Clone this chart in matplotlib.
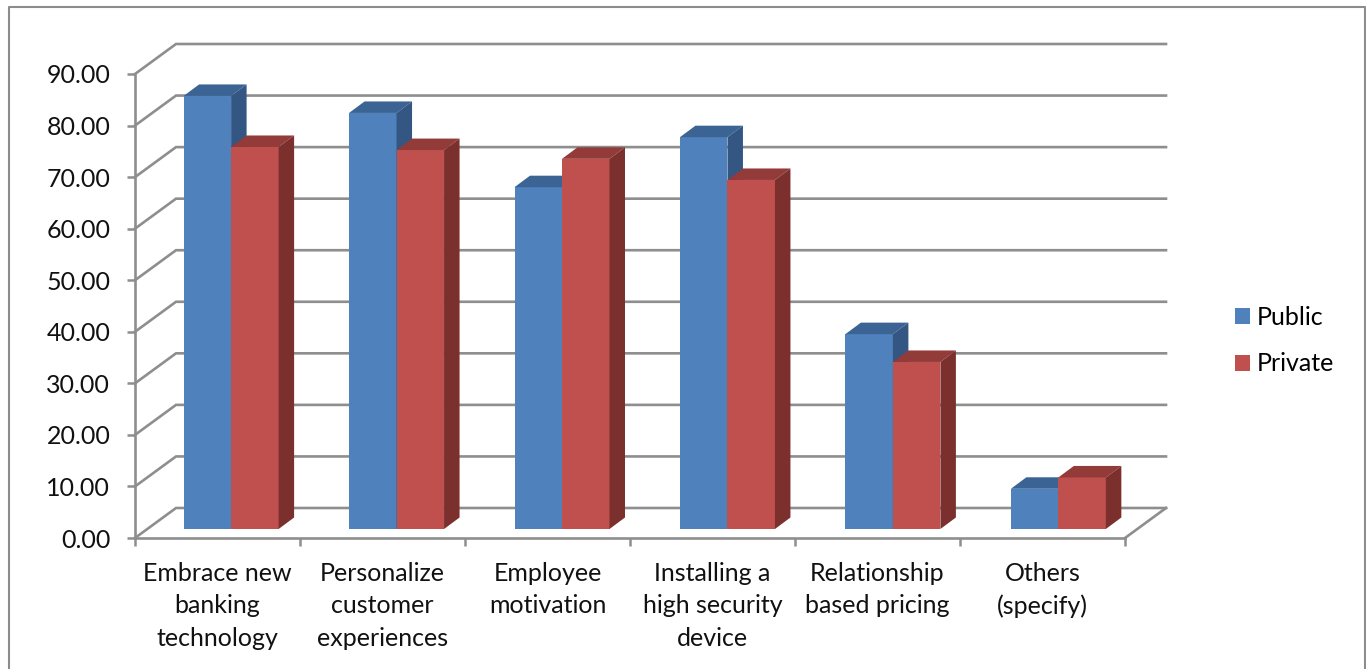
import matplotlib
matplotlib.use("Agg")
import matplotlib.pyplot as plt
from matplotlib.patches import Patch
from matplotlib.lines import Line2D

categories = ["Embrace new\nbanking\ntechnology", "Personalize\ncustomer\nexperiences",
              "Employee\nmotivation", "Installing a\nhigh security\ndevice",
              "Relationship\nbased pricing", "Others\n(specify)"]
public = [84.0, 80.7, 66.3, 76.0, 37.8, 7.8]
private = [74.1, 73.5, 71.8, 67.7, 32.4, 10.0]
y_ticks = [0, 10, 20, 30, 40, 50, 60, 70, 80, 90]

W, H = 1366, 669
L, R, T, B = 135, 1125, 74, 538
GRID = "#8e8e8e"
plt.rcParams["font.family"] = ["Lato", "DejaVu Sans"]
FS = 18

fig = plt.figure(figsize=(W / 100, H / 100), dpi=100)
ax = fig.add_axes([L / W, 1 - B / H, (R - L) / W, (B - T) / H])
ax.set_xlim(0, 6)
ax.set_ylim(0, 90)

px_x = 6 / (R - L)
px_y = 90 / (B - T)
wall_dx, wall_dy = 41 * px_x, 30 * px_y
bar_dx, bar_dy = 15.5 * px_x, 11.5 * px_y
base = 9 * px_y
width = 47.5 * px_x
start = 96.1 * px_x
pitch = 165.45 * px_x

# walls
for v in y_ticks:
    ax.plot([0, wall_dx, 6 + wall_dx], [v, v + wall_dy, v + wall_dy], color=GRID, lw=1.9,
            clip_on=False, zorder=1, solid_joinstyle="miter")
ax.plot([6, 6 + wall_dx], [0, wall_dy], color=GRID, lw=1.9, clip_on=False, zorder=1)


def draw_bar(x, v, front, top, side, z):
    ax.bar(x, v, width=width, bottom=base, align="edge", color=front, zorder=z, linewidth=0)
    y1 = base + v
    ax.fill([x, x + width, x + width + bar_dx, x + bar_dx],
            [y1, y1, y1 + bar_dy, y1 + bar_dy], color=top, lw=0, zorder=z, clip_on=False)
    ax.fill([x + width, x + width + bar_dx, x + width + bar_dx, x + width],
            [base, base + bar_dy, y1 + bar_dy, y1], color=side, lw=0, zorder=z, clip_on=False)


for i, (a, b) in enumerate(zip(public, private)):
    centre = start + i * pitch
    draw_bar(centre - width, a, "#4F81BD", "#3B6494", "#335682", 3 + 2 * i)
    draw_bar(centre, b, "#C0504D", "#923B39", "#7B302E", 4 + 2 * i)

for s in ("top", "right"):
    ax.spines[s].set_visible(False)
for s in ("left", "bottom"):
    ax.spines[s].set_color(GRID)
    ax.spines[s].set_linewidth(1.9)

ax.set_yticks(y_ticks)
ax.set_yticklabels([f"{v:.2f}" for v in y_ticks], fontsize=FS, color="#111111")
ax.tick_params(axis="y", length=5.8, width=1.8, color=GRID, pad=12)
ax.set_xticks(range(7))
ax.set_xticklabels([])
ax.tick_params(axis="x", which="major", length=5.8, width=1.8, color=GRID)
ax.set_xticks([i + 0.5 for i in range(6)], minor=True)
ax.set_xticklabels(categories, minor=True, fontsize=FS, color="#111111", linespacing=1.5)
ax.tick_params(axis="x", which="minor", length=0, pad=17)

handles = [Patch(facecolor="#4F81BD", label="Public"), Patch(facecolor="#C0504D", label="Private")]
fig.legend(handles=handles, loc="center left", bbox_to_anchor=(1235 / W, 1 - 340.5 / H),
           frameon=False, fontsize=FS, handlelength=0.6, handleheight=0.6, handletextpad=0.28,
           labelspacing=0.95, borderpad=0, borderaxespad=0)

# outer chart frame, running off the bottom of the picture
fig.add_artist(Line2D([8.5 / W, 8.5 / W, 1364.5 / W, 1364.5 / W], [0, 1 - 6.5 / H, 1 - 6.5 / H, 0],
                      color="#8c8c8c", lw=1.5, transform=fig.transFigure))

fig.savefig("out.png", dpi=100)
